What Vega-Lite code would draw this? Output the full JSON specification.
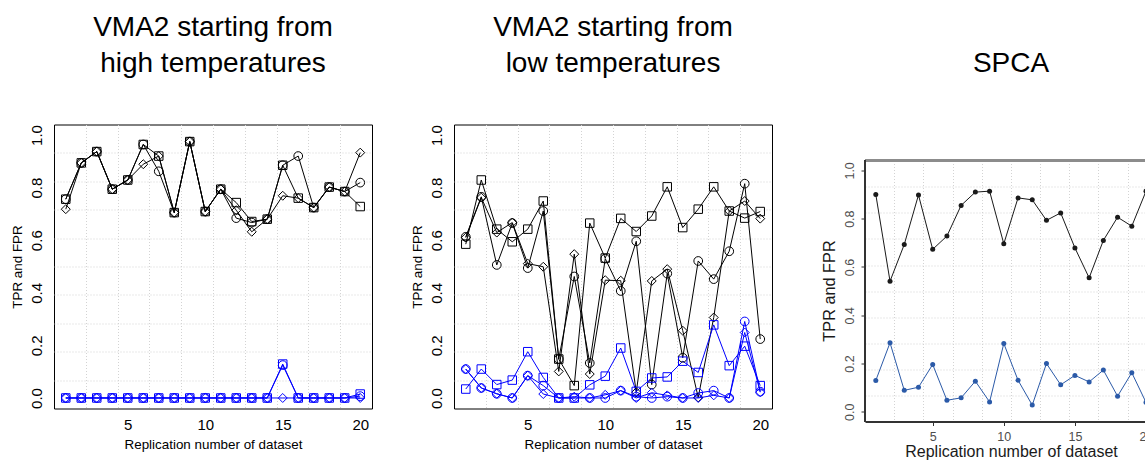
{
  "$schema": "https://vega.github.io/schema/vega-lite/v6.json",
  "padding": {"left": 9, "top": 12.5, "right": 0, "bottom": 0},
  "background": "white",
  "config": {
    "font": "Liberation Sans",
    "view": {"stroke": null},
    "axis": {"labelFont": "Liberation Sans", "titleFont": "Liberation Sans", "labelColor": "#000000", "titleColor": "#000000", "titleFontWeight": "normal"},
    "title": {"font": "Liberation Sans", "fontSize": 28, "fontWeight": "normal", "lineHeight": 36, "color": "#000000", "anchor": "middle", "baseline": "bottom", "frame": "group"}
  },
  "resolve": {"scale": {"color": "independent"}},
  "datasets": {
    "high": [
      {"rep":1,"series":"A","rate":"TPR","value":0.756},{"rep":2,"series":"A","rate":"TPR","value":0.894},{"rep":3,"series":"A","rate":"TPR","value":0.937},{"rep":4,"series":"A","rate":"TPR","value":0.794},{"rep":5,"series":"A","rate":"TPR","value":0.829},{"rep":6,"series":"A","rate":"TPR","value":0.964},{"rep":7,"series":"A","rate":"TPR","value":0.920},{"rep":8,"series":"A","rate":"TPR","value":0.705},{"rep":9,"series":"A","rate":"TPR","value":0.975},{"rep":10,"series":"A","rate":"TPR","value":0.709},{"rep":11,"series":"A","rate":"TPR","value":0.794},{"rep":12,"series":"A","rate":"TPR","value":0.743},{"rep":13,"series":"A","rate":"TPR","value":0.671},{"rep":14,"series":"A","rate":"TPR","value":0.680},{"rep":15,"series":"A","rate":"TPR","value":0.885},{"rep":16,"series":"A","rate":"TPR","value":0.760},{"rep":17,"series":"A","rate":"TPR","value":0.724},{"rep":18,"series":"A","rate":"TPR","value":0.802},{"rep":19,"series":"A","rate":"TPR","value":0.785},{"rep":20,"series":"A","rate":"TPR","value":0.728},
      {"rep":1,"series":"B","rate":"TPR","value":0.756},{"rep":2,"series":"B","rate":"TPR","value":0.894},{"rep":3,"series":"B","rate":"TPR","value":0.937},{"rep":4,"series":"B","rate":"TPR","value":0.794},{"rep":5,"series":"B","rate":"TPR","value":0.829},{"rep":6,"series":"B","rate":"TPR","value":0.964},{"rep":7,"series":"B","rate":"TPR","value":0.862},{"rep":8,"series":"B","rate":"TPR","value":0.705},{"rep":9,"series":"B","rate":"TPR","value":0.975},{"rep":10,"series":"B","rate":"TPR","value":0.709},{"rep":11,"series":"B","rate":"TPR","value":0.794},{"rep":12,"series":"B","rate":"TPR","value":0.684},{"rep":13,"series":"B","rate":"TPR","value":0.667},{"rep":14,"series":"B","rate":"TPR","value":0.680},{"rep":15,"series":"B","rate":"TPR","value":0.885},{"rep":16,"series":"B","rate":"TPR","value":0.920},{"rep":17,"series":"B","rate":"TPR","value":0.724},{"rep":18,"series":"B","rate":"TPR","value":0.802},{"rep":19,"series":"B","rate":"TPR","value":0.785},{"rep":20,"series":"B","rate":"TPR","value":0.819},
      {"rep":1,"series":"C","rate":"TPR","value":0.718},{"rep":2,"series":"C","rate":"TPR","value":0.894},{"rep":3,"series":"C","rate":"TPR","value":0.937},{"rep":4,"series":"C","rate":"TPR","value":0.794},{"rep":5,"series":"C","rate":"TPR","value":0.829},{"rep":6,"series":"C","rate":"TPR","value":0.889},{"rep":7,"series":"C","rate":"TPR","value":0.920},{"rep":8,"series":"C","rate":"TPR","value":0.705},{"rep":9,"series":"C","rate":"TPR","value":0.975},{"rep":10,"series":"C","rate":"TPR","value":0.709},{"rep":11,"series":"C","rate":"TPR","value":0.794},{"rep":12,"series":"C","rate":"TPR","value":0.714},{"rep":13,"series":"C","rate":"TPR","value":0.632},{"rep":14,"series":"C","rate":"TPR","value":0.680},{"rep":15,"series":"C","rate":"TPR","value":0.769},{"rep":16,"series":"C","rate":"TPR","value":0.760},{"rep":17,"series":"C","rate":"TPR","value":0.724},{"rep":18,"series":"C","rate":"TPR","value":0.802},{"rep":19,"series":"C","rate":"TPR","value":0.785},{"rep":20,"series":"C","rate":"TPR","value":0.933},
      {"rep":1,"series":"A","rate":"FPR","value":0},{"rep":2,"series":"A","rate":"FPR","value":0},{"rep":3,"series":"A","rate":"FPR","value":0},{"rep":4,"series":"A","rate":"FPR","value":0},{"rep":5,"series":"A","rate":"FPR","value":0},{"rep":6,"series":"A","rate":"FPR","value":0},{"rep":7,"series":"A","rate":"FPR","value":0},{"rep":8,"series":"A","rate":"FPR","value":0},{"rep":9,"series":"A","rate":"FPR","value":0},{"rep":10,"series":"A","rate":"FPR","value":0},{"rep":11,"series":"A","rate":"FPR","value":0},{"rep":12,"series":"A","rate":"FPR","value":0},{"rep":13,"series":"A","rate":"FPR","value":0},{"rep":14,"series":"A","rate":"FPR","value":0},{"rep":15,"series":"A","rate":"FPR","value":0.129},{"rep":16,"series":"A","rate":"FPR","value":0},{"rep":17,"series":"A","rate":"FPR","value":0},{"rep":18,"series":"A","rate":"FPR","value":0},{"rep":19,"series":"A","rate":"FPR","value":0},{"rep":20,"series":"A","rate":"FPR","value":0.015},
      {"rep":1,"series":"B","rate":"FPR","value":0},{"rep":2,"series":"B","rate":"FPR","value":0},{"rep":3,"series":"B","rate":"FPR","value":0},{"rep":4,"series":"B","rate":"FPR","value":0},{"rep":5,"series":"B","rate":"FPR","value":0},{"rep":6,"series":"B","rate":"FPR","value":0},{"rep":7,"series":"B","rate":"FPR","value":0},{"rep":8,"series":"B","rate":"FPR","value":0},{"rep":9,"series":"B","rate":"FPR","value":0},{"rep":10,"series":"B","rate":"FPR","value":0},{"rep":11,"series":"B","rate":"FPR","value":0},{"rep":12,"series":"B","rate":"FPR","value":0},{"rep":13,"series":"B","rate":"FPR","value":0},{"rep":14,"series":"B","rate":"FPR","value":0},{"rep":15,"series":"B","rate":"FPR","value":0.125},{"rep":16,"series":"B","rate":"FPR","value":0},{"rep":17,"series":"B","rate":"FPR","value":0},{"rep":18,"series":"B","rate":"FPR","value":0},{"rep":19,"series":"B","rate":"FPR","value":0},{"rep":20,"series":"B","rate":"FPR","value":0.007},
      {"rep":1,"series":"C","rate":"FPR","value":0},{"rep":2,"series":"C","rate":"FPR","value":0},{"rep":3,"series":"C","rate":"FPR","value":0},{"rep":4,"series":"C","rate":"FPR","value":0},{"rep":5,"series":"C","rate":"FPR","value":0},{"rep":6,"series":"C","rate":"FPR","value":0},{"rep":7,"series":"C","rate":"FPR","value":0},{"rep":8,"series":"C","rate":"FPR","value":0},{"rep":9,"series":"C","rate":"FPR","value":0},{"rep":10,"series":"C","rate":"FPR","value":0},{"rep":11,"series":"C","rate":"FPR","value":0},{"rep":12,"series":"C","rate":"FPR","value":0},{"rep":13,"series":"C","rate":"FPR","value":0},{"rep":14,"series":"C","rate":"FPR","value":0},{"rep":15,"series":"C","rate":"FPR","value":0},{"rep":16,"series":"C","rate":"FPR","value":0},{"rep":17,"series":"C","rate":"FPR","value":0},{"rep":18,"series":"C","rate":"FPR","value":0},{"rep":19,"series":"C","rate":"FPR","value":0},{"rep":20,"series":"C","rate":"FPR","value":0}
    ],
    "low": [
      {"rep":1,"series":"A","rate":"TPR","value":0.585},{"rep":2,"series":"A","rate":"TPR","value":0.829},{"rep":3,"series":"A","rate":"TPR","value":0.642},{"rep":4,"series":"A","rate":"TPR","value":0.594},{"rep":5,"series":"A","rate":"TPR","value":0.642},{"rep":6,"series":"A","rate":"TPR","value":0.749},{"rep":7,"series":"A","rate":"TPR","value":0.148},{"rep":8,"series":"A","rate":"TPR","value":0.047},{"rep":9,"series":"A","rate":"TPR","value":0.665},{"rep":10,"series":"A","rate":"TPR","value":0.532},{"rep":11,"series":"A","rate":"TPR","value":0.683},{"rep":12,"series":"A","rate":"TPR","value":0.633},{"rep":13,"series":"A","rate":"TPR","value":0.692},{"rep":14,"series":"A","rate":"TPR","value":0.803},{"rep":15,"series":"A","rate":"TPR","value":0.648},{"rep":16,"series":"A","rate":"TPR","value":0.718},{"rep":17,"series":"A","rate":"TPR","value":0.803},{"rep":18,"series":"A","rate":"TPR","value":0.711},{"rep":19,"series":"A","rate":"TPR","value":0.684},{"rep":20,"series":"A","rate":"TPR","value":0.709},
      {"rep":1,"series":"B","rate":"TPR","value":0.613},{"rep":2,"series":"B","rate":"TPR","value":0.765},{"rep":3,"series":"B","rate":"TPR","value":0.506},{"rep":4,"series":"B","rate":"TPR","value":0.665},{"rep":5,"series":"B","rate":"TPR","value":0.494},{"rep":6,"series":"B","rate":"TPR","value":0.711},{"rep":7,"series":"B","rate":"TPR","value":0.148},{"rep":8,"series":"B","rate":"TPR","value":0.462},{"rep":9,"series":"B","rate":"TPR","value":0.133},{"rep":10,"series":"B","rate":"TPR","value":0.530},{"rep":11,"series":"B","rate":"TPR","value":0.407},{"rep":12,"series":"B","rate":"TPR","value":0.596},{"rep":13,"series":"B","rate":"TPR","value":0.051},{"rep":14,"series":"B","rate":"TPR","value":0.473},{"rep":15,"series":"B","rate":"TPR","value":0.153},{"rep":16,"series":"B","rate":"TPR","value":0.521},{"rep":17,"series":"B","rate":"TPR","value":0.452},{"rep":18,"series":"B","rate":"TPR","value":0.558},{"rep":19,"series":"B","rate":"TPR","value":0.815},{"rep":20,"series":"B","rate":"TPR","value":0.224},
      {"rep":1,"series":"C","rate":"TPR","value":0.610},{"rep":2,"series":"C","rate":"TPR","value":0.762},{"rep":3,"series":"C","rate":"TPR","value":0.629},{"rep":4,"series":"C","rate":"TPR","value":0.667},{"rep":5,"series":"C","rate":"TPR","value":0.511},{"rep":6,"series":"C","rate":"TPR","value":0.499},{"rep":7,"series":"C","rate":"TPR","value":0.101},{"rep":8,"series":"C","rate":"TPR","value":0.547},{"rep":9,"series":"C","rate":"TPR","value":0.091},{"rep":10,"series":"C","rate":"TPR","value":0.448},{"rep":11,"series":"C","rate":"TPR","value":0.446},{"rep":12,"series":"C","rate":"TPR","value":0.022},{"rep":13,"series":"C","rate":"TPR","value":0.445},{"rep":14,"series":"C","rate":"TPR","value":0.490},{"rep":15,"series":"C","rate":"TPR","value":0.256},{"rep":16,"series":"C","rate":"TPR","value":0.002},{"rep":17,"series":"C","rate":"TPR","value":0.306},{"rep":18,"series":"C","rate":"TPR","value":0.711},{"rep":19,"series":"C","rate":"TPR","value":0.749},{"rep":20,"series":"C","rate":"TPR","value":0.682},
      {"rep":1,"series":"A","rate":"FPR","value":0.034},{"rep":2,"series":"A","rate":"FPR","value":0.110},{"rep":3,"series":"A","rate":"FPR","value":0.051},{"rep":4,"series":"A","rate":"FPR","value":0.068},{"rep":5,"series":"A","rate":"FPR","value":0.176},{"rep":6,"series":"A","rate":"FPR","value":0.078},{"rep":7,"series":"A","rate":"FPR","value":0.0},{"rep":8,"series":"A","rate":"FPR","value":0.0},{"rep":9,"series":"A","rate":"FPR","value":0.050},{"rep":10,"series":"A","rate":"FPR","value":0.083},{"rep":11,"series":"A","rate":"FPR","value":0.190},{"rep":12,"series":"A","rate":"FPR","value":0.025},{"rep":13,"series":"A","rate":"FPR","value":0.076},{"rep":14,"series":"A","rate":"FPR","value":0.080},{"rep":15,"series":"A","rate":"FPR","value":0.140},{"rep":16,"series":"A","rate":"FPR","value":0.097},{"rep":17,"series":"A","rate":"FPR","value":0.278},{"rep":18,"series":"A","rate":"FPR","value":0.123},{"rep":19,"series":"A","rate":"FPR","value":0.197},{"rep":20,"series":"A","rate":"FPR","value":0.047},
      {"rep":1,"series":"B","rate":"FPR","value":0.110},{"rep":2,"series":"B","rate":"FPR","value":0.038},{"rep":3,"series":"B","rate":"FPR","value":0.016},{"rep":4,"series":"B","rate":"FPR","value":0.0},{"rep":5,"series":"B","rate":"FPR","value":0.085},{"rep":6,"series":"B","rate":"FPR","value":0.047},{"rep":7,"series":"B","rate":"FPR","value":0.0},{"rep":8,"series":"B","rate":"FPR","value":0.0},{"rep":9,"series":"B","rate":"FPR","value":0.0},{"rep":10,"series":"B","rate":"FPR","value":0.0},{"rep":11,"series":"B","rate":"FPR","value":0.028},{"rep":12,"series":"B","rate":"FPR","value":0.005},{"rep":13,"series":"B","rate":"FPR","value":0.0},{"rep":14,"series":"B","rate":"FPR","value":0.005},{"rep":15,"series":"B","rate":"FPR","value":0.0},{"rep":16,"series":"B","rate":"FPR","value":0.019},{"rep":17,"series":"B","rate":"FPR","value":0.028},{"rep":18,"series":"B","rate":"FPR","value":0.0},{"rep":19,"series":"B","rate":"FPR","value":0.291},{"rep":20,"series":"B","rate":"FPR","value":0.024},
      {"rep":1,"series":"C","rate":"FPR","value":0.110},{"rep":2,"series":"C","rate":"FPR","value":0.038},{"rep":3,"series":"C","rate":"FPR","value":0.016},{"rep":4,"series":"C","rate":"FPR","value":0.0},{"rep":5,"series":"C","rate":"FPR","value":0.085},{"rep":6,"series":"C","rate":"FPR","value":0.015},{"rep":7,"series":"C","rate":"FPR","value":0.0},{"rep":8,"series":"C","rate":"FPR","value":0.005},{"rep":9,"series":"C","rate":"FPR","value":0.0},{"rep":10,"series":"C","rate":"FPR","value":0.012},{"rep":11,"series":"C","rate":"FPR","value":0.028},{"rep":12,"series":"C","rate":"FPR","value":0.0},{"rep":13,"series":"C","rate":"FPR","value":0.020},{"rep":14,"series":"C","rate":"FPR","value":0.010},{"rep":15,"series":"C","rate":"FPR","value":0.0},{"rep":16,"series":"C","rate":"FPR","value":0.0},{"rep":17,"series":"C","rate":"FPR","value":0.010},{"rep":18,"series":"C","rate":"FPR","value":0.0},{"rep":19,"series":"C","rate":"FPR","value":0.249},{"rep":20,"series":"C","rate":"FPR","value":0.022}
    ],
    "spca": [
      {"rep":1,"rate":"TPR","value":0.900},{"rep":2,"rate":"TPR","value":0.541},{"rep":3,"rate":"TPR","value":0.693},{"rep":4,"rate":"TPR","value":0.898},{"rep":5,"rate":"TPR","value":0.673},{"rep":6,"rate":"TPR","value":0.728},{"rep":7,"rate":"TPR","value":0.855},{"rep":8,"rate":"TPR","value":0.910},{"rep":9,"rate":"TPR","value":0.914},{"rep":10,"rate":"TPR","value":0.696},{"rep":11,"rate":"TPR","value":0.886},{"rep":12,"rate":"TPR","value":0.878},{"rep":13,"rate":"TPR","value":0.793},{"rep":14,"rate":"TPR","value":0.824},{"rep":15,"rate":"TPR","value":0.679},{"rep":16,"rate":"TPR","value":0.555},{"rep":17,"rate":"TPR","value":0.710},{"rep":18,"rate":"TPR","value":0.806},{"rep":19,"rate":"TPR","value":0.769},{"rep":20,"rate":"TPR","value":0.914},
      {"rep":1,"rate":"FPR","value":0.130},{"rep":2,"rate":"FPR","value":0.286},{"rep":3,"rate":"FPR","value":0.089},{"rep":4,"rate":"FPR","value":0.102},{"rep":5,"rate":"FPR","value":0.196},{"rep":6,"rate":"FPR","value":0.048},{"rep":7,"rate":"FPR","value":0.058},{"rep":8,"rate":"FPR","value":0.127},{"rep":9,"rate":"FPR","value":0.041},{"rep":10,"rate":"FPR","value":0.283},{"rep":11,"rate":"FPR","value":0.131},{"rep":12,"rate":"FPR","value":0.028},{"rep":13,"rate":"FPR","value":0.200},{"rep":14,"rate":"FPR","value":0.112},{"rep":15,"rate":"FPR","value":0.151},{"rep":16,"rate":"FPR","value":0.124},{"rep":17,"rate":"FPR","value":0.173},{"rep":18,"rate":"FPR","value":0.065},{"rep":19,"rate":"FPR","value":0.162},{"rep":20,"rate":"FPR","value":0.039}
    ]
  },
  "spacing": 48,
  "hconcat": [
    {
      "spacing": 36,
      "hconcat": [
        {
          "width": 318, "height": 284,
          "title": {"text": ["VMA2 starting from", "high temperatures"], "offset": 47},
          "view": {"stroke": "#000000", "strokeWidth": 1},
          "data": {"name": "high"},
          "layer": [
            {
              "mark": {"type": "point", "opacity": 0},
              "encoding": {
                "x": {"field": "rep", "type": "quantitative", "scale": {"domain": [0.24, 20.76], "nice": false, "zero": false},
                      "axis": {"orient": "bottom", "values": [2.292, 4.344, 6.396, 8.448, 10.5, 12.552, 14.604, 16.656, 18.708], "grid": true, "gridColor": "#d3d3d3", "gridDash": [1, 2], "gridWidth": 1, "labels": false, "ticks": false, "domain": false, "title": null, "minExtent": 0, "maxExtent": 0}},
                "y": {"field": "value", "type": "quantitative", "scale": {"domain": [-0.04, 1.04], "nice": false, "zero": false},
                      "axis": {"orient": "left", "values": [0.068, 0.176, 0.284, 0.392, 0.5, 0.608, 0.716, 0.824, 0.932], "grid": true, "gridColor": "#d3d3d3", "gridDash": [1, 2], "gridWidth": 1, "labels": false, "ticks": false, "domain": false, "title": null, "minExtent": 0, "maxExtent": 0}}
              }
            },
            {
              "mark": {"type": "line", "strokeWidth": 1},
              "encoding": {
                "x": {"field": "rep", "type": "quantitative", "scale": {"domain": [0.24, 20.76], "nice": false, "zero": false},
                      "axis": {"orient": "bottom", "values": [5, 10, 15, 20], "grid": false, "ticks": false, "tickSize": 0, "domain": false, "labelFontSize": 15, "labelPadding": 9, "labelFlush": false, "title": "Replication number of dataset", "titleFontSize": 13.4, "titlePadding": 5}},
                "y": {"field": "value", "type": "quantitative", "scale": {"domain": [-0.04, 1.04], "nice": false, "zero": false},
                      "axis": {"orient": "left", "values": [0, 0.2, 0.4, 0.6, 0.8, 1.0], "format": ".1f", "grid": false, "ticks": false, "tickSize": 0, "domain": false, "labelAngle": 270, "labelAlign": "center", "labelBaseline": "bottom", "labelFontSize": 15, "labelPadding": 9.5, "labelFlush": false, "title": "TPR and FPR", "titleFontSize": 13.4, "titlePadding": 5}},
                "color": {"field": "rate", "type": "nominal", "scale": {"domain": ["TPR", "FPR"], "range": ["#000000", "#0000ff"]}, "legend": null},
                "detail": {"field": "series"}
              }
            },
            {
              "mark": {"type": "point", "filled": false, "strokeWidth": 1, "opacity": 1},
              "encoding": {
                "x": {"field": "rep", "type": "quantitative", "axis": null},
                "y": {"field": "value", "type": "quantitative", "axis": null},
                "color": {"field": "rate", "type": "nominal", "legend": null},
                "shape": {"field": "series", "type": "nominal", "scale": {"domain": ["A", "B", "C"], "range": ["square", "circle", "diamond"]}, "legend": null},
                "size": {"field": "series", "type": "nominal", "scale": {"domain": ["A", "B", "C"], "range": [72, 80, 130]}, "legend": null}
              }
            }
          ],
          "resolve": {"axis": {"x": "independent", "y": "independent"}}
        },
        {
          "width": 318, "height": 284,
          "title": {"text": ["VMA2 starting from", "low temperatures"], "offset": 47},
          "view": {"stroke": "#000000", "strokeWidth": 1},
          "data": {"name": "low"},
          "layer": [
            {
              "mark": {"type": "point", "opacity": 0},
              "encoding": {
                "x": {"field": "rep", "type": "quantitative", "scale": {"domain": [0.24, 20.76], "nice": false, "zero": false},
                      "axis": {"orient": "bottom", "values": [2.292, 4.344, 6.396, 8.448, 10.5, 12.552, 14.604, 16.656, 18.708], "grid": true, "gridColor": "#d3d3d3", "gridDash": [1, 2], "gridWidth": 1, "labels": false, "ticks": false, "domain": false, "title": null, "minExtent": 0, "maxExtent": 0}},
                "y": {"field": "value", "type": "quantitative", "scale": {"domain": [-0.04, 1.04], "nice": false, "zero": false},
                      "axis": {"orient": "left", "values": [0.068, 0.176, 0.284, 0.392, 0.5, 0.608, 0.716, 0.824, 0.932], "grid": true, "gridColor": "#d3d3d3", "gridDash": [1, 2], "gridWidth": 1, "labels": false, "ticks": false, "domain": false, "title": null, "minExtent": 0, "maxExtent": 0}}
              }
            },
            {
              "mark": {"type": "line", "strokeWidth": 1},
              "encoding": {
                "x": {"field": "rep", "type": "quantitative", "scale": {"domain": [0.24, 20.76], "nice": false, "zero": false},
                      "axis": {"orient": "bottom", "values": [5, 10, 15, 20], "grid": false, "ticks": false, "tickSize": 0, "domain": false, "labelFontSize": 15, "labelPadding": 9, "labelFlush": false, "title": "Replication number of dataset", "titleFontSize": 13.4, "titlePadding": 5}},
                "y": {"field": "value", "type": "quantitative", "scale": {"domain": [-0.04, 1.04], "nice": false, "zero": false},
                      "axis": {"orient": "left", "values": [0, 0.2, 0.4, 0.6, 0.8, 1.0], "format": ".1f", "grid": false, "ticks": false, "tickSize": 0, "domain": false, "labelAngle": 270, "labelAlign": "center", "labelBaseline": "bottom", "labelFontSize": 15, "labelPadding": 9.5, "labelFlush": false, "title": "TPR and FPR", "titleFontSize": 13.4, "titlePadding": 5}},
                "color": {"field": "rate", "type": "nominal", "scale": {"domain": ["TPR", "FPR"], "range": ["#000000", "#0000ff"]}, "legend": null},
                "detail": {"field": "series"}
              }
            },
            {
              "mark": {"type": "point", "filled": false, "strokeWidth": 1, "opacity": 1},
              "encoding": {
                "x": {"field": "rep", "type": "quantitative", "axis": null},
                "y": {"field": "value", "type": "quantitative", "axis": null},
                "color": {"field": "rate", "type": "nominal", "legend": null},
                "shape": {"field": "series", "type": "nominal", "scale": {"domain": ["A", "B", "C"], "range": ["square", "circle", "diamond"]}, "legend": null},
                "size": {"field": "series", "type": "nominal", "scale": {"domain": ["A", "B", "C"], "range": [72, 80, 130]}, "legend": null}
              }
            }
          ],
          "resolve": {"axis": {"x": "independent", "y": "independent"}}
        }
      ]
    },
    {
      "width": 284, "height": 297,
      "title": {"text": "SPCA", "offset": 47, "dx": 4},
      "view": {"stroke": null},
      "data": {"name": "spca"},
      "layer": [
        {
          "mark": {"type": "point", "opacity": 0},
          "encoding": {
            "x": {"field": "rep", "type": "quantitative", "scale": {"domain": [0.24, 20.21], "nice": false, "zero": false},
                  "axis": {"orient": "bottom", "values": [2.292, 4.344, 6.396, 8.448, 10.5, 12.552, 14.604, 16.656, 18.708], "grid": true, "gridColor": "#d3d3d3", "gridDash": [1, 2], "gridWidth": 1, "labels": false, "ticks": false, "domain": false, "title": null, "minExtent": 0, "maxExtent": 0}},
            "y": {"field": "value", "type": "quantitative", "scale": {"domain": [-0.04, 1.19], "nice": false, "zero": false},
                  "axis": {"orient": "left", "values": [0.068, 0.176, 0.284, 0.392, 0.5, 0.608, 0.716, 0.824, 0.932], "grid": true, "gridColor": "#d3d3d3", "gridDash": [1, 2], "gridWidth": 1, "labels": false, "ticks": false, "domain": false, "title": null, "minExtent": 0, "maxExtent": 0}}
          }
        },
        {
          "mark": {"type": "rect", "color": "#ffffff"},
          "encoding": {
            "x": {"datum": 0.24, "type": "quantitative", "axis": null},
            "x2": {"datum": 20.21},
            "y": {"datum": 1.04, "type": "quantitative", "axis": null},
            "y2": {"datum": 1.19}
          }
        },
        {
          "mark": {"type": "rule", "color": "#8c8c8c", "strokeWidth": 2.5},
          "encoding": {
            "x": {"datum": 0.24, "type": "quantitative", "axis": null},
            "x2": {"datum": 20.21},
            "y": {"datum": 1.04, "type": "quantitative", "axis": null}
          }
        },
        {
          "mark": {"type": "rule", "color": "#333333", "strokeWidth": 2},
          "encoding": {
            "x": {"datum": 0.24, "type": "quantitative", "axis": null},
            "y": {"datum": -0.04, "type": "quantitative", "axis": null},
            "y2": {"datum": 1.04}
          }
        },
        {
          "mark": {"type": "line", "strokeWidth": 1},
          "encoding": {
            "x": {"field": "rep", "type": "quantitative", "scale": {"domain": [0.24, 20.21], "nice": false, "zero": false},
                  "axis": {"orient": "bottom", "values": [5, 10, 15, 20], "grid": false, "ticks": true, "tickSize": 4, "tickColor": "#333333", "domain": true, "domainColor": "#333333", "domainWidth": 2, "labelFontSize": 12.5, "labelColor": "#4d4d4d", "labelPadding": 4.5, "labelFlush": false, "title": "Replication number of dataset", "titleFontSize": 16, "titleColor": "#1a1a1a", "titlePadding": 1, "titleX": 146}},
            "y": {"field": "value", "type": "quantitative", "scale": {"domain": [-0.04, 1.19], "nice": false, "zero": false},
                  "axis": {"orient": "left", "values": [0, 0.2, 0.4, 0.6, 0.8, 1.0], "format": ".1f", "grid": false, "ticks": true, "tickSize": 4, "tickColor": "#333333", "domain": false, "labelAngle": 270, "labelAlign": "center", "labelBaseline": "bottom", "labelFontSize": 12.5, "labelColor": "#4d4d4d", "labelPadding": 4.8, "labelFlush": false, "title": "TPR and FPR", "titleFontSize": 16.3, "titleColor": "#1a1a1a", "titlePadding": 6, "titleY": 166}},
            "color": {"field": "rate", "type": "nominal", "scale": {"domain": ["TPR", "FPR"], "range": ["#1a1a1a", "#2b5aa8"]}, "legend": null}
          }
        },
        {
          "mark": {"type": "point", "filled": true, "size": 25, "opacity": 1},
          "encoding": {
            "x": {"field": "rep", "type": "quantitative", "axis": null},
            "y": {"field": "value", "type": "quantitative", "axis": null},
            "color": {"field": "rate", "type": "nominal", "legend": null}
          }
        }
      ],
      "resolve": {"axis": {"x": "independent", "y": "independent"}}
    }
  ]
}
